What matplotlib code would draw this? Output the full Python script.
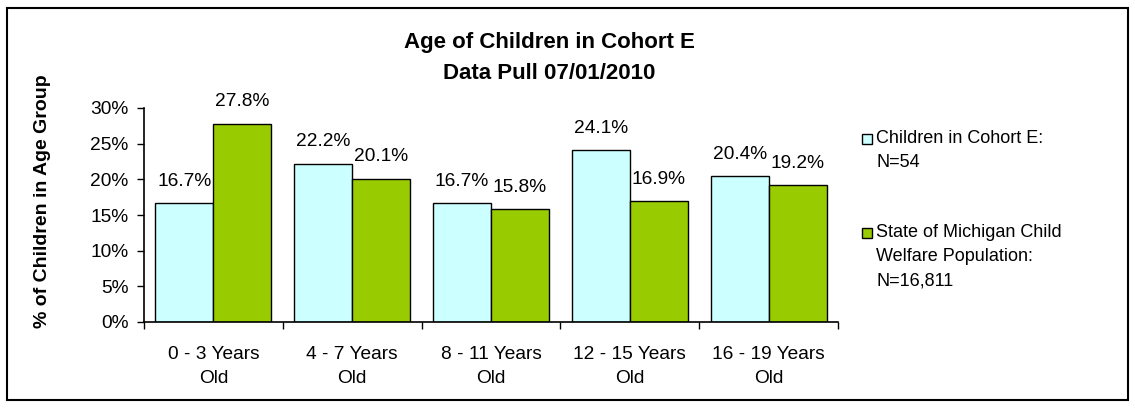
import matplotlib
matplotlib.use("Agg")
import matplotlib.pyplot as plt
from matplotlib.patches import Rectangle
import numpy as np

categories = ["0 - 3 Years\nOld", "4 - 7 Years\nOld", "8 - 11 Years\nOld", "12 - 15 Years\nOld", "16 - 19 Years\nOld"]
cohort_e = [16.7, 22.2, 16.7, 24.1, 20.4]
michigan = [27.8, 20.1, 15.8, 16.9, 19.2]
series_names = ["Children in Cohort E:\nN=54", "State of Michigan Child\nWelfare Population:\nN=16,811"]
colors = ["#CCFFFF", "#99CC00"]

plt.rcParams['font.family'] = ['Liberation Sans', 'DejaVu Sans']
FS = 13.8
W, H = 1135, 408

fig = plt.figure(figsize=(W/100, H/100), dpi=100)
fig.patches.append(Rectangle((7/W, 8/H), 1121/W, 392/H, transform=fig.transFigure,
                             fill=False, edgecolor='black', linewidth=1.5))

ax = fig.add_axes([144/W, 86/H, 694/W, 214/H])
x = np.arange(len(categories))
w = 0.418
b1 = ax.bar(x - w/2, cohort_e, w, color=colors[0], edgecolor='black', linewidth=1)
b2 = ax.bar(x + w/2, michigan, w, color=colors[1], edgecolor='black', linewidth=1)

for bars, vals in ((b1, cohort_e), (b2, michigan)):
    for r, v in zip(bars, vals):
        ax.annotate(f"{v:.1f}%", (r.get_x() + r.get_width()/2, v), xytext=(0, 9.5),
                    textcoords='offset points', ha='center', va='bottom', fontsize=FS)

ax.set_ylim(0, 30)
ax.set_xlim(-0.5, len(categories) - 0.5)
ax.set_yticks(range(0, 31, 5))
ax.set_yticklabels([f"{t}%" for t in range(0, 31, 5)], fontsize=FS)
ax.set_xticks(np.arange(-0.5, len(categories), 1.0))
ax.set_xticklabels([])
ax.set_xticks(x, minor=True)
ax.set_xticklabels(categories, minor=True, fontsize=FS, linespacing=1.6)
ax.tick_params(axis='x', which='major', direction='out', length=5, width=1)
ax.tick_params(axis='x', which='minor', length=0, pad=17)
ax.tick_params(axis='y', direction='out', length=5, width=1, pad=6)
for s in ('top', 'right'):
    ax.spines[s].set_visible(False)
for s in ('left', 'bottom'):
    ax.spines[s].set_linewidth(1.2)

ax.set_ylabel("% of Children in Age Group", fontsize=14, fontweight='bold')
ax.yaxis.set_label_coords(-(144 - 51) / 694, (322 - 201) / 214)
fig.text(549/W, 1 - 58/H, "Age of Children in Cohort E\nData Pull 07/01/2010", ha='center', va='center',
         fontsize=16, fontweight='bold', linespacing=1.65)

# legend: square aligned with first text line
entry_tops = [130, 224]
for c, name, top in zip(colors, series_names, entry_tops):
    fig.patches.append(Rectangle((862/W, 1 - (top + 14)/H), 10/W, 10/H, transform=fig.transFigure,
                                 facecolor=c, edgecolor='black', linewidth=1))
    fig.text(876/W, 1 - top/H, name, ha='left', va='top', fontsize=13, linespacing=1.55)

fig.savefig("out.png", dpi=100)
